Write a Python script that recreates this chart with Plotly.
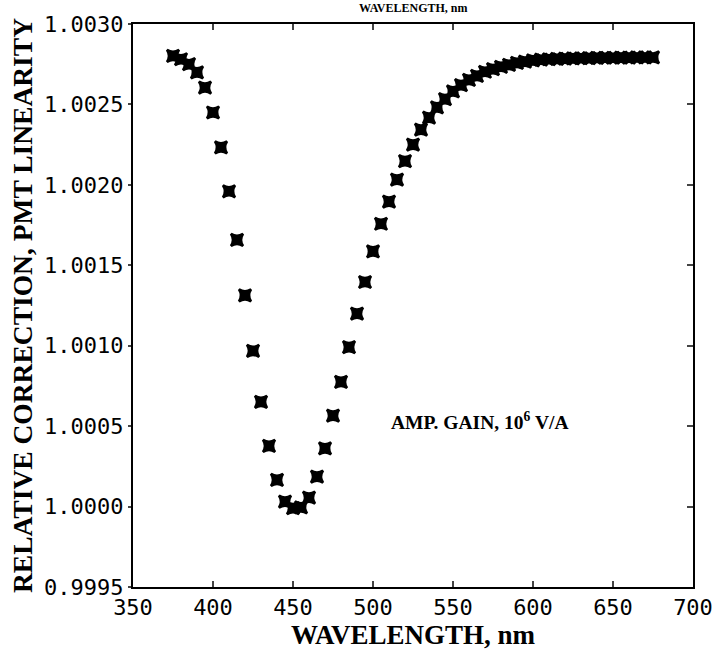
import plotly.graph_objects as go

wavelength = list(range(375, 680, 5))
correction = [
    1.002802, 1.002781, 1.002750, 1.002699, 1.002605, 1.002450, 1.002233, 1.001960,
    1.001658, 1.001313, 1.000968, 1.000651, 1.000377, 1.000166, 1.000031, 0.999990,
    0.999995, 1.000056, 1.000186, 1.000362, 1.000565, 1.000775, 1.000991, 1.001199,
    1.001396, 1.001586, 1.001758, 1.001896, 1.002033, 1.002148, 1.002250, 1.002343,
    1.002418, 1.002482, 1.002533, 1.002581, 1.002620, 1.002653, 1.002678, 1.002703,
    1.002719, 1.002734, 1.002746, 1.002758, 1.002766, 1.002774, 1.002778, 1.002781,
    1.002783, 1.002785, 1.002786, 1.002787, 1.002788, 1.002789, 1.002790, 1.002790,
    1.002791, 1.002791, 1.002792, 1.002792, 1.002792,
]
x_ticks = [350, 400, 450, 500, 550, 600, 650, 700]
y_ticks = [0.9995, 1.0000, 1.0005, 1.0010, 1.0015, 1.0020, 1.0025, 1.0030]
y_tick_text = ["0.9995", "1.0000", "1.0005", "1.0010", "1.0015", "1.0020", "1.0025", "1.0030"]

serif = "Liberation Serif"
mono = "DejaVu Sans Mono"

fig = go.Figure()
fig.add_trace(go.Scatter(
    x=wavelength, y=correction, mode="markers",
    marker=dict(symbol="star-square", size=11, color="black", line=dict(width=2.5, color="black")),
    showlegend=False,
))
fig.add_trace(go.Scatter(x=[None], y=[None], yaxis="y2", showlegend=False))

fig.update_layout(
    width=725, height=656,
    margin=dict(l=133, r=27, t=23, b=69),
    paper_bgcolor="white", plot_bgcolor="white",
    xaxis=dict(
        range=[350, 700], tickvals=x_ticks, ticks="inside", ticklen=6, tickwidth=2,
        showline=True, linewidth=2, linecolor="black", mirror="ticks",
        showgrid=False, zeroline=False,
        tickfont=dict(family=mono, size=22, color="black"),
        title=dict(text="<b>WAVELENGTH, nm</b>", font=dict(family=serif, size=27, color="black"), standoff=3),
    ),
    yaxis=dict(
        range=[0.9995, 1.0030], tickvals=y_ticks, ticktext=y_tick_text,
        ticks="outside", ticklen=3, tickwidth=2,
        showline=True, linewidth=2, linecolor="black", mirror=True,
        showgrid=False, zeroline=False,
        tickfont=dict(family=mono, size=22, color="black"),
        title=dict(text="<b>RELATIVE CORRECTION, PMT LINEARITY</b>", font=dict(family=serif, size=27.5, color="black"), standoff=3),
    ),
    yaxis2=dict(
        range=[0.9995, 1.0030], tickvals=y_ticks, overlaying="y", side="right", anchor="x",
        ticks="inside", ticklen=6, tickwidth=2, showticklabels=False,
        showline=False, showgrid=False, zeroline=False,
    ),
    annotations=[
        dict(x=510, y=1.00053, xref="x", yref="y", xanchor="left", yanchor="middle",
             text="<b>AMP. GAIN, 10<sup>6</sup> V/A</b>", showarrow=False,
             font=dict(family=serif, size=19.5, color="black")),
        dict(x=0.50, y=1.0, xref="paper", yref="paper", xanchor="center", yanchor="bottom",
             yshift=7, text="<b>WAVELENGTH, nm</b>", showarrow=False,
             font=dict(family=serif, size=12, color="black")),
    ],
)

fig.write_html("out.html")
